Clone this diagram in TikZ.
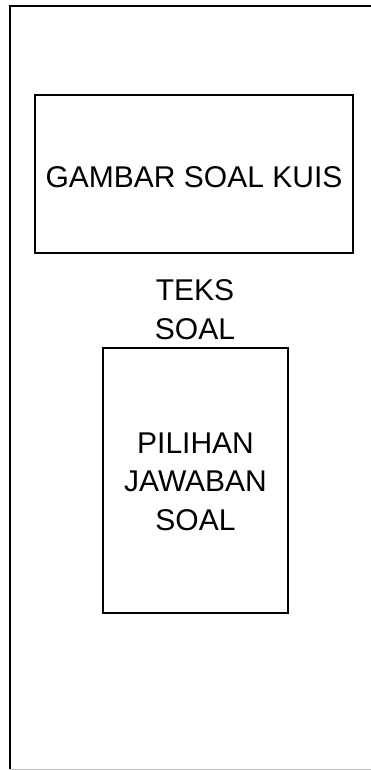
\documentclass[tikz,border=0pt]{standalone}
\usepackage{fontspec}
\setmainfont{Liberation Sans}
\begin{document}
\begin{tikzpicture}[x=1pt,y=-1pt,
  box/.style={draw=black,line width=1.5pt,inner sep=0pt},
  lbl/.style={align=center,font=\fontsize{30}{38.5}\selectfont,inner sep=0pt}]
\useasboundingbox (0,0) rectangle (370,770);
\fill[white] (0,0) rectangle (370,770);
% outer frame
\coordinate (tr) at (380,6);
\coordinate (tl) at (10,6);
\coordinate (bl) at (10,769);
\coordinate (br) at (380,769);
\draw[line width=1.5pt] (tr) -- (tl) -- (bl);
\draw[line width=2.5pt] (tl) -- (bl);
\draw[gray!50,line width=1pt] (bl) -- (br);
% boxes
\node[box,minimum width=318pt,minimum height=158pt] (gambar) at (194,174) {};
\node[lbl,anchor=base] (gtext) at (194,187) {GAMBAR SOAL KUIS};
\node[lbl,anchor=base] (teks) at (195,339) {TEKS\\SOAL};
\node[box,minimum width=185pt,minimum height=265pt] (pilihan) at (195.5,480.5) {};
\node[lbl,anchor=base] (ptext) at (195.5,530) {PILIHAN\\JAWABAN\\SOAL};
\end{tikzpicture}
\end{document}
